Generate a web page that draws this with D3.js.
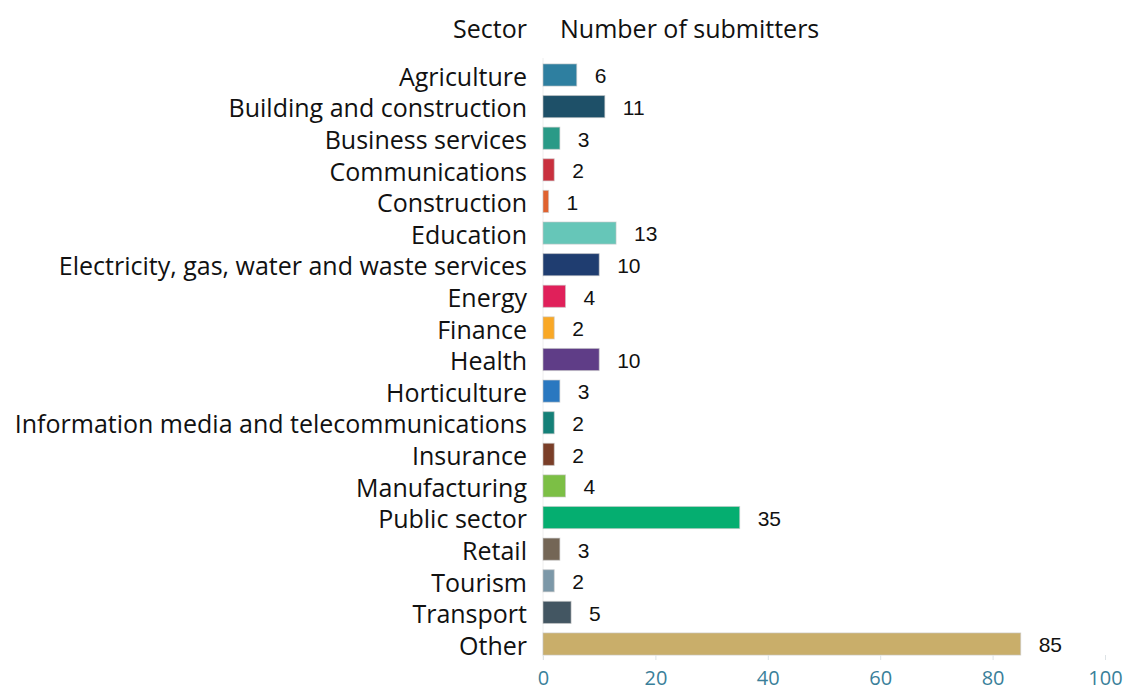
<!DOCTYPE html>
<html>
<head>
<meta charset="utf-8">
<script src="https://cdn.jsdelivr.net/npm/d3@7"></script>
<style>
  html, body { margin: 0; padding: 0; background: #fff; }
  svg { display: block; }
</style>
</head>
<body>
<svg id="chart" width="1123" height="691"></svg>
<script>
// Submitters by sector
const sectors = [
  "Agriculture", "Building and construction", "Business services", "Communications",
  "Construction", "Education", "Electricity, gas, water and waste services", "Energy",
  "Finance", "Health", "Horticulture", "Information media and telecommunications",
  "Insurance", "Manufacturing", "Public sector", "Retail", "Tourism", "Transport", "Other"
];
const submitters = [6, 11, 3, 2, 1, 13, 10, 4, 2, 10, 3, 2, 2, 4, 35, 3, 2, 5, 85];
const sectorColors = [
  "#2e7fa0", "#1e5068", "#2a9a87", "#c9303e", "#e0622f", "#66c6b8", "#1f3d70", "#e0205a",
  "#f9a826", "#5f3d87", "#2a78c0", "#158078", "#7a3e28", "#7cbf45", "#05ae70", "#746656",
  "#7c98a8", "#435662", "#c9ae6a"
];
const xTicks = [0, 20, 40, 60, 80, 100];

const svg = d3.select("#chart");
const labelFont = "'Open Sans', Lato, sans-serif";
const labelSize = "25px";

const x = d3.scaleLinear().domain([0, 100]).range([543, 1105]);
const step = 31.61;
const y = d3.scaleBand()
  .domain(sectors)
  .range([75 - step / 2, 644 + step / 2])
  .paddingInner(0.3)
  .paddingOuter(0.15);

// faint baseline at zero
svg.append("line")
  .attr("x1", x(0)).attr("x2", x(0))
  .attr("y1", 58).attr("y2", 660)
  .attr("stroke", "#eeeeee").attr("stroke-width", 1);

// headers
svg.append("text")
  .attr("x", 527).attr("y", 38)
  .attr("text-anchor", "end")
  .style("font-family", labelFont).style("font-size", labelSize).attr("fill", "#111")
  .text("Sector");
svg.append("text")
  .attr("x", 560).attr("y", 38)
  .style("font-family", labelFont).style("font-size", labelSize).attr("fill", "#111")
  .text("Number of submitters");

// category labels
svg.append("g").selectAll("text")
  .data(sectors)
  .join("text")
  .attr("x", 527)
  .attr("y", d => y(d) + y.bandwidth() / 2 + 2)
  .attr("dy", "0.35em")
  .attr("text-anchor", "end")
  .style("font-family", labelFont).style("font-size", labelSize).attr("fill", "#111")
  .text(d => d);

// bars
svg.append("g").selectAll("rect")
  .data(sectors)
  .join("rect")
  .attr("x", x(0))
  .attr("y", d => y(d))
  .attr("width", (d, i) => x(submitters[i]) - x(0))
  .attr("height", y.bandwidth())
  .attr("fill", (d, i) => sectorColors[i])
  .attr("stroke", "rgba(200,200,200,0.6)")
  .attr("stroke-width", 1);

// value labels
svg.append("g").selectAll("text")
  .data(sectors)
  .join("text")
  .attr("x", (d, i) => x(submitters[i]) + 18)
  .attr("y", d => y(d) + y.bandwidth() / 2 + 1)
  .attr("dy", "0.35em")
  .style("font-family", "'Liberation Sans', Arial, sans-serif").style("font-size", "21px").attr("fill", "#111")
  .text((d, i) => submitters[i]);

// x axis
const xAxis = svg.append("g")
  .attr("transform", "translate(0,655)")
  .call(d3.axisBottom(x).tickValues(xTicks).tickSize(5).tickPadding(11));
xAxis.select(".domain").remove();
xAxis.selectAll(".tick line").attr("stroke", "#dde3e6");
xAxis.selectAll(".tick text")
  .style("font-family", labelFont).style("font-size", "20px").attr("fill", "#3a7f9a");
</script>
</body>
</html>
